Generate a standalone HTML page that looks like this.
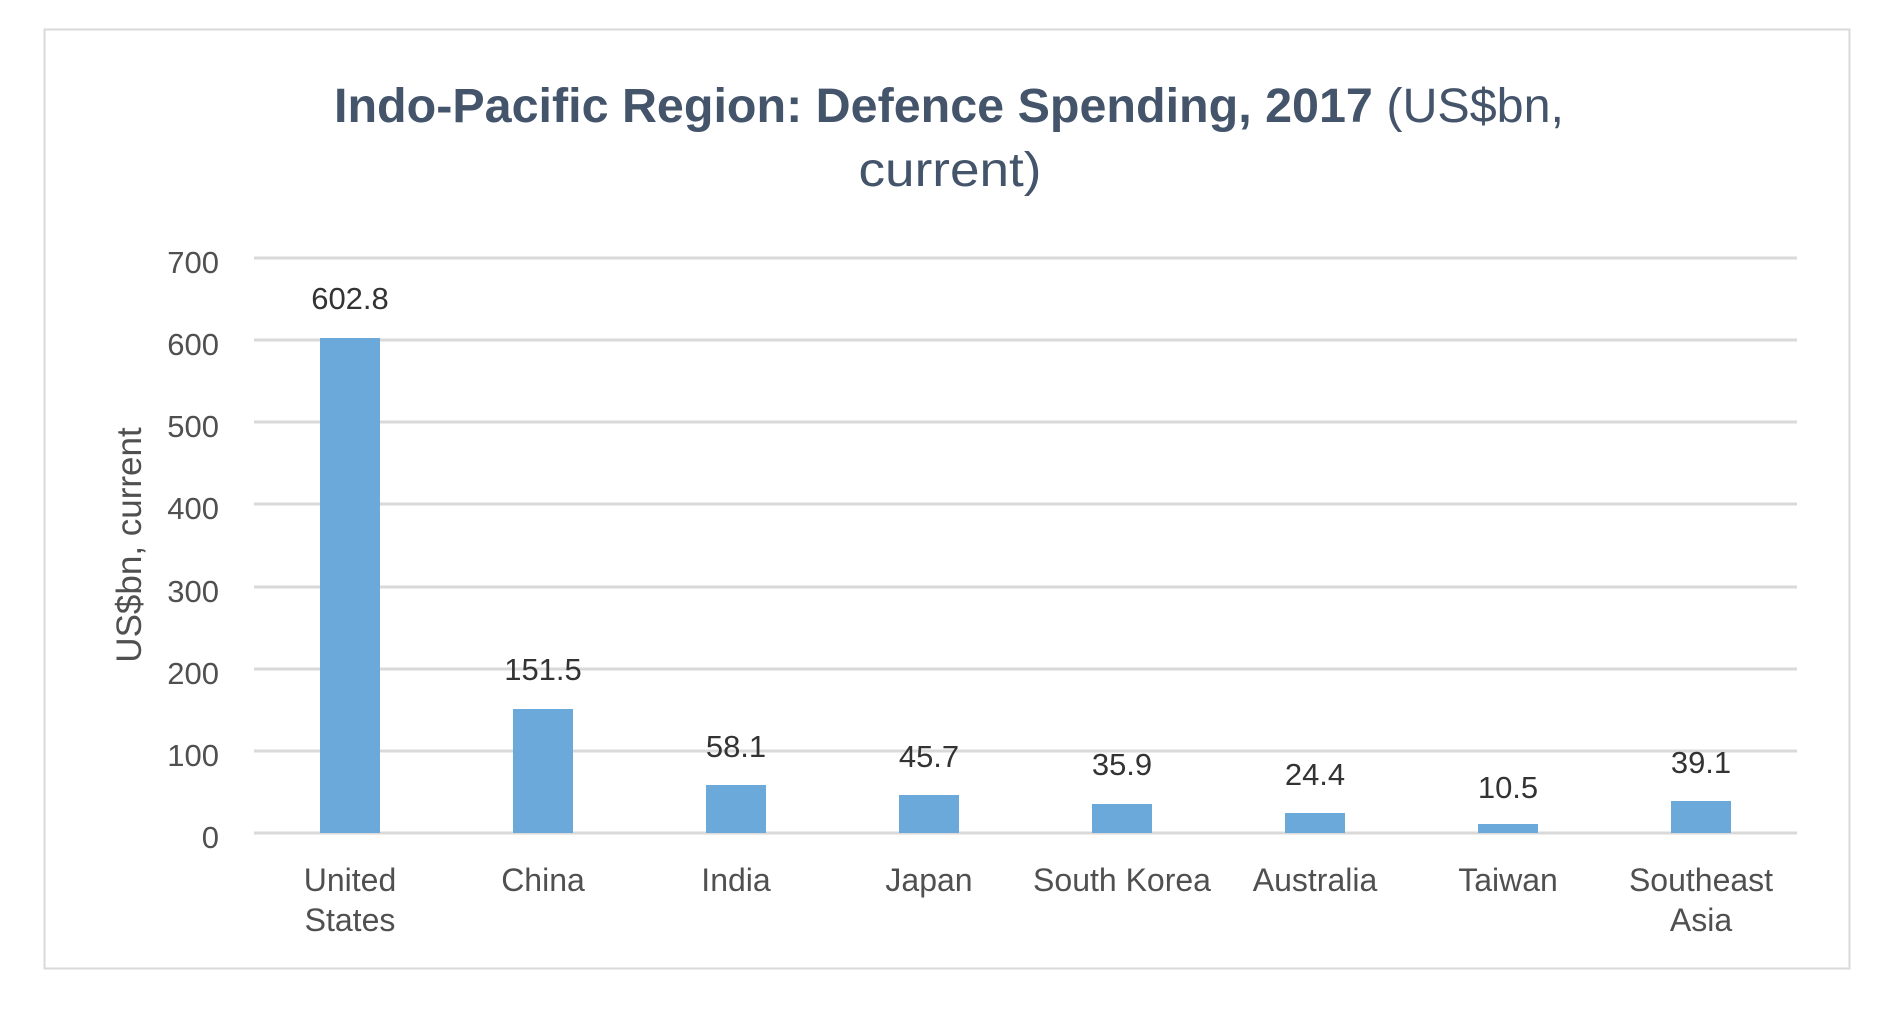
<!DOCTYPE html>
<html><head><meta charset="utf-8"><style>
html,body{margin:0;padding:0;background:#fff;}
svg{display:block;font-family:"Liberation Sans",sans-serif;}
</style></head><body>
<svg width="1890" height="1020" viewBox="0 0 1890 1020" xmlns="http://www.w3.org/2000/svg">
<rect x="0" y="0" width="1890" height="1020" fill="#fff"/>
<rect x="44.5" y="29.5" width="1805" height="939" fill="#fff" stroke="#d9d9d9" stroke-width="2"/>
<text x="334" y="122" font-size="48" fill="#44546A" textLength="1230" lengthAdjust="spacingAndGlyphs"><tspan font-weight="bold">Indo-Pacific Region: Defence Spending, 2017</tspan> (US$bn,</text>
<text x="950" y="186" font-size="48" fill="#44546A" text-anchor="middle" textLength="183" lengthAdjust="spacingAndGlyphs">current)</text>
<g stroke="#d9d9d9" stroke-width="3">
<line x1="254" y1="258" x2="1797" y2="258"/>
<line x1="254" y1="340" x2="1797" y2="340"/>
<line x1="254" y1="422" x2="1797" y2="422"/>
<line x1="254" y1="504" x2="1797" y2="504"/>
<line x1="254" y1="587" x2="1797" y2="587"/>
<line x1="254" y1="669" x2="1797" y2="669"/>
<line x1="254" y1="751" x2="1797" y2="751"/>
<line x1="254" y1="833" x2="1797" y2="833"/>
</g>
<g font-size="31" fill="#505050" text-anchor="end">
<text x="219" y="273">700</text>
<text x="219" y="355">600</text>
<text x="219" y="437">500</text>
<text x="219" y="519">400</text>
<text x="219" y="602">300</text>
<text x="219" y="684">200</text>
<text x="219" y="766">100</text>
<text x="219" y="848">0</text>
</g>
<text transform="translate(141,545) rotate(-90)" font-size="35" fill="#505050" text-anchor="middle">US$bn, current</text>
<g fill="#6aa9da">
<rect x="320" y="338" width="60" height="495"/>
<rect x="513" y="709" width="60" height="124"/>
<rect x="706" y="785" width="60" height="48"/>
<rect x="899" y="795" width="60" height="38"/>
<rect x="1092" y="804" width="60" height="29"/>
<rect x="1285" y="813" width="60" height="20"/>
<rect x="1478" y="824" width="60" height="9"/>
<rect x="1671" y="801" width="60" height="32"/>
</g>
<g font-size="31" fill="#333" text-anchor="middle">
<text x="350" y="309">602.8</text>
<text x="543" y="680">151.5</text>
<text x="736" y="757">58.1</text>
<text x="929" y="767">45.7</text>
<text x="1122" y="775">35.9</text>
<text x="1315" y="785">24.4</text>
<text x="1508" y="798">10.5</text>
<text x="1701" y="773">39.1</text>
</g>
<g font-size="32" fill="#505050" text-anchor="middle">
<text x="350" y="891">United</text>
<text x="350" y="931">States</text>
<text x="543" y="891">China</text>
<text x="736" y="891">India</text>
<text x="929" y="891">Japan</text>
<text x="1122" y="891">South Korea</text>
<text x="1315" y="891">Australia</text>
<text x="1508" y="891">Taiwan</text>
<text x="1701" y="891">Southeast</text>
<text x="1701" y="931">Asia</text>
</g>
</svg>
</body></html>
